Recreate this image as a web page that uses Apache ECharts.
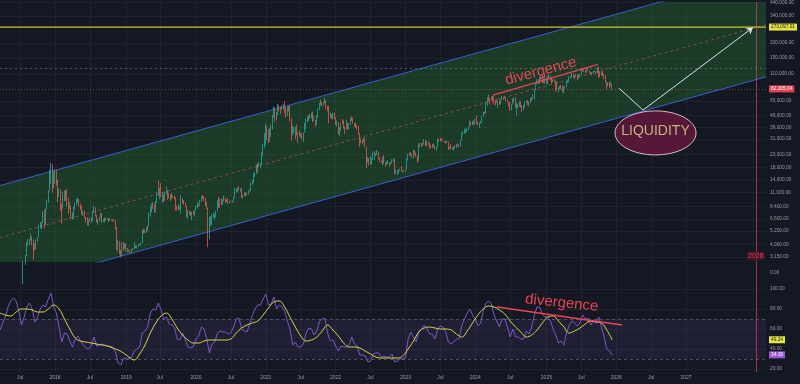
<!DOCTYPE html>
<html><head><meta charset="utf-8">
<script src="https://cdn.jsdelivr.net/npm/echarts@6/dist/echarts.min.js"></script>
<style>html,body{margin:0;padding:0;background:#141823;}#c{width:800px;height:384px;}</style>
</head><body><div id="c"></div>
<script>
// ---------- DATA ----------
const candleStart = '2017-07-10';   // weekly candles
const firstOpen = 2500;
const closes = [
1930,2750,2760,3230,4060,4080,4350,4600,4230,3700,3630,4400,4610,5690,6010,6140,7380,5950,8040,9330,11290,15100,19140,13880,14150,
16480,13770,11600,11750,8200,8070,10400,9650,11500,9540,8200,8500,6900,7000,8300,8900,9350,9650,8700,8500,7350,7700,6780,6500,6150,6380,6750,6350,7400,8200,7000,6300,6400,6700,7300,6250,6500,6700,6600,6600,6300,6450,6480,6450,6400,5600,4000,4150,3600,3200,3950,3900,4050,
3520,3550,3530,3420,3650,3650,3860,3810,3930,4000,4000,4100,5200,5080,5300,5200,5750,7000,8200,8750,8720,7650,8950,10850,10800,11450,10200,10500,9500,10800,11400,10200,10100,9600,10400,10300,10000,8050,7850,8300,8220,9550,9200,8800,8500,7050,7400,7500,7100,7500,7300,7750,
8100,8700,8350,9350,10150,9900,9700,8550,8050,5400,5850,5900,6800,6900,7100,7700,8900,8700,9700,8700,9450,9650,9350,9300,9000,9100,9300,9170,9930,11050,11680,11850,11650,11700,10250,10450,10930,10770,10670,11380,11500,13030,13760,15480,15970,18400,18180,19150,19250,23850,26500,33000,
38200,35800,32300,33100,39200,48600,57500,45200,51200,59000,57500,55900,58200,60000,56200,49100,56600,58200,46400,34700,35600,35800,39100,35500,34700,35300,34250,31800,35400,39900,43800,47000,49300,48800,49900,46000,47300,43200,48200,54900,61500,61000,61300,63300,65000,58600,57300,49400,50100,46700,50800,47300,
41800,43100,36300,37900,42400,42200,38400,37700,38400,37800,41300,46800,46400,42200,39700,39500,38500,34100,31300,30300,29500,29900,26600,20500,21000,19300,20800,20800,22600,23300,23200,24300,21500,20000,19800,21800,19400,18800,19300,19400,19100,19600,20600,20900,16300,16300,16450,17100,17100,16750,16850,16550,
17100,20900,22700,23750,22950,21800,24650,23500,22400,20600,28000,27800,28500,28300,30300,27600,29250,28700,26900,26800,28100,27200,25850,26500,30500,30600,30300,30250,29800,29300,29050,29300,26100,26000,25850,25850,26550,26250,27950,27900,26850,29950,34550,35000,37050,37400,37450,39450,43800,41350,43000,42250,
43950,41750,41600,42050,42600,48300,52150,51750,63100,68950,68350,67200,71300,69350,65700,64950,63100,63900,61500,66950,68500,67750,69650,66650,64250,62700,55850,60800,68150,68250,58150,58700,59450,64200,57300,54850,59150,63350,65850,62800,63000,69000,67950,68750,80450,89850,97900,97200,101100,104450,95200,93700,98350,
94500,101300,104700,97700,96500,96150,96250,94250,80700,82600,86100,82400,78400,83750,85150,93750,94300,104100,106500,109000,105650,105700,105550,100950,108350,109200,119050,117300,119450,114200,119300,117400,113500,108250,111150,115300,115250,112150,123500,115250,108650,114500,110600,104700,94200,86800,90400,88000,88500,82205
];
const highs = [
2540,2900,2810,3290,4200,4480,4450,4980,4700,4400,4120,4450,4620,5860,6200,6250,7600,7900,8100,9600,11500,17200,19700,19100,16500,
17250,17200,14100,11900,11700,8900,11200,11500,11600,11700,9950,9200,8500,7500,8400,9050,9750,9990,9650,8880,8550,7750,7770,6850,6850,6500,6800,6800,7700,8500,8250,7150,6600,6800,7400,7400,6600,6800,6750,6650,6700,6750,6550,6500,6560,6450,5600,4400,4300,3600,4200,4200,4100,
4100,3750,3650,3560,3700,3700,4200,3930,3950,4020,4080,4150,5350,5470,5400,5650,5800,7450,8350,8900,9100,8750,9330,11200,13850,12000,13200,11100,10650,11100,12300,11500,10950,10600,10900,10450,10350,10050,8500,8800,8450,10500,9850,9500,9000,8500,7850,7700,7650,7550,7700,7800,
8500,9150,8750,9550,10200,10500,10250,9950,9200,8200,6900,6950,7200,7450,7300,7750,9450,10050,9850,9850,9650,10400,9980,9600,9800,9300,9450,9350,10100,12100,11900,12000,12480,11800,12100,10600,11180,10990,10950,11450,11700,13350,14050,15950,16400,18900,19450,19900,19400,24300,28400,34800,
41950,40100,37400,38500,40950,49700,58350,57500,52600,61800,60600,58400,60000,61300,64800,57500,58000,59500,59600,46600,40800,39400,39500,41300,35700,36600,35100,34600,35400,42400,46000,48100,49300,50500,51900,52900,48800,45000,49200,56500,62900,67000,63700,64200,69000,66300,59300,59200,51900,50300,51800,52100,
47500,44400,43500,38900,42600,45800,44700,39800,45400,42600,42400,46900,48200,47200,42400,42900,40800,40000,34800,31300,30600,32200,31700,26900,21900,21500,22400,21600,24200,24600,23600,25200,24400,21800,20500,21900,22800,19700,20400,20500,19900,19700,21000,21500,21000,17200,16800,17400,17400,18400,16950,16950,
17200,21200,23300,23950,24250,23400,25250,25100,23900,22600,28450,28850,29100,28800,30950,30500,30000,29800,28900,27650,28200,28450,27400,26800,31400,31250,31500,31800,30400,29600,30000,30250,29650,26800,28150,26500,26900,27450,28050,28600,27900,30300,35200,35900,38000,37950,38400,39500,44700,43500,44400,43800,
45900,49000,43550,42850,43850,48550,52800,52950,64000,70100,73800,68900,71700,71300,72800,66850,67200,64700,65500,67400,71950,70600,71950,70150,66950,63850,63800,61500,68350,69400,70000,62700,61800,65000,64500,59800,60600,64100,66500,65500,64450,69400,69500,73600,81500,93450,99600,98900,103900,105250,108350,99900,102750,
102700,106400,109600,106450,102500,98800,99500,96500,95000,84900,87450,88750,88500,86100,86450,95750,97900,104900,106650,111950,110450,106800,110400,108950,108500,110500,119500,123200,120250,119800,119450,124450,117400,113650,113400,116800,117900,115400,125700,126200,115950,114950,116400,110600,107500,95000,93000,94100,94600,90300
];
const lows = [
1840,1850,2450,2700,3210,3950,3950,4330,3950,2980,3600,3630,4200,4600,5450,5380,6100,5500,5850,8000,9000,11300,13000,11000,12000,
13000,12500,9100,10100,7700,6000,8000,9300,9400,8400,7300,8000,6600,6500,6600,7900,8700,9000,8350,7900,7250,7050,6650,6150,5800,5750,6300,6100,6300,7350,6900,6150,5900,6250,6700,6100,6200,6100,6400,6450,6200,6350,6350,6250,6350,5350,3600,3500,3300,3150,3200,3550,3700,
3500,3450,3500,3380,3380,3580,3650,3740,3700,3860,3940,3960,4100,4950,5000,5050,5200,5700,6900,7500,8000,7450,7550,8950,10300,9650,10100,9100,9100,9400,10600,9500,9800,9350,9600,9950,9600,7750,7750,7800,7900,7300,9000,8700,8350,6800,6600,7100,7000,6450,7150,6900,
7700,8100,8300,8550,9150,9700,9300,8450,8000,3800,4450,5750,5850,6750,6500,6800,7650,8150,8200,8650,8650,9300,9050,9150,8850,8900,9150,9050,9150,9900,10950,11100,11400,11150,9900,9880,10260,10150,10400,10550,11250,11400,12900,13200,14850,15800,16200,18000,17600,19000,22300,26050,
27700,30400,28850,29250,32300,37400,47000,43000,45000,49300,53300,50400,54900,55500,51500,47000,48800,53000,43800,30000,33400,34800,31000,33400,28800,32700,32100,31000,29300,35200,37500,43100,43900,46400,46500,43000,44000,39600,40800,46900,54300,59500,57900,59500,62300,55600,53300,42000,46800,45700,45600,45700,
40700,39700,34000,32900,36300,41700,38000,34300,37200,37200,37600,40900,44200,42000,39200,38600,37600,33700,26700,28700,28000,29300,26600,17600,19700,18600,19000,18900,20800,20700,22400,22700,20800,19800,19600,18500,19300,18100,18800,19100,18200,18900,19300,20000,15600,16000,15500,16000,16900,16600,16400,16300,
16500,17100,20500,22300,22500,21450,21350,22800,21950,19550,20250,26650,26550,27200,28000,27150,26950,27650,25850,26150,26100,26500,25350,24800,26250,29500,29700,29950,29550,28900,28600,28700,25150,25800,25400,25400,24900,26000,26000,27200,26550,26950,29900,33900,34500,34800,35650,36900,39450,40250,40550,41300,
40750,41500,40650,38550,41900,42300,47700,50550,50900,59000,64600,60800,66500,64500,60700,59600,62800,56500,60200,60650,66300,66700,68450,65050,63400,58400,53500,54300,60600,63450,57150,49000,56200,57850,57200,52550,54600,57600,62700,59850,58900,62450,65100,67450,66850,80200,89400,90800,90500,94200,92200,92400,91200,
91200,89250,99550,96150,91200,94100,93400,78200,80000,76650,81250,81600,77150,74500,83000,85150,92800,93350,100700,102000,103100,100400,103400,98200,100500,105100,107450,115700,114700,112000,112650,116800,111700,107300,107250,110600,114400,108650,111600,102000,103550,106350,106300,98950,93000,80600,86300,83800,87500,81200
];

const rsiStart = '2017-03-20';      // RSI, every 2 weeks
const rsiValues = [
59,66,72,82,88,91,88,78,64,72,82,86,80,67,72,80,84,82,90,96,82,
76,62,47,56,55,48,42,50,53,48,44,41,40,43,52,43,44,45,44,43,43,42,37,26,24,31,
30,30,32,38,40,42,56,58,62,76,80,79,86,79,70,72,65,64,61,50,49,56,49,42,41,42,
50,53,62,60,50,36,45,47,56,58,57,57,55,56,62,70,71,60,58,57,65,74,80,84,84,90,
95,84,85,92,80,84,82,78,68,60,44,47,42,42,45,56,61,60,54,58,68,70,71,56,48,49,
43,38,43,42,42,44,52,45,43,34,34,33,27,28,35,36,36,32,33,32,32,35,27,28,30,30,
31,50,57,52,47,58,60,64,60,55,55,50,60,63,62,57,47,45,47,50,50,64,70,76,80,74,
70,63,66,78,86,88,85,74,68,62,70,70,62,52,60,52,52,50,50,58,55,62,74,82,82,75,72,
72,68,60,54,46,48,44,56,64,68,66,63,66,74,70,71,64,68,66,72,62,52,40,38,34
];
const rsiMaStart = '2017-03-20';    // RSI moving average, every 4 weeks
const rsiMaValues = [
76,74,73,77,80,80,79,77,77,80,84,80,70,60,51,48,47,46,45,44,
43,41,39,36,32,29,35,44,56,66,73,76,70,61,54,49,46,46,48,49,
49,49,49,50,56,61,64,66,68,74,81,87,88,82,72,62,53,48,49,52,
58,64,59,53,46,42,42,41,38,35,32,31,31,31,31,33,40,48,57,61,
62,61,60,60,59,55,52,58,66,74,80,83,82,79,75,68,62,57,52,54,
59,66,72,73,68,62,56,58,61,65,68,67,66,59,49
];

const priceTicks = [3150,4000,5200,6600,8400,11000,14000,18000,23000,31000,39000,49000,65000,110000,150000,200000,340000,440000];
const rsiTicks = [20,40,60,80,100];
const timeTicks = ['2017-07-03','2018-01-01','2018-07-02','2019-01-07','2019-07-01','2020-01-06','2020-07-06','2021-01-04','2021-07-05','2022-01-03','2022-07-04','2023-01-02','2023-07-03','2024-01-01','2024-07-01','2025-01-06','2025-07-07','2026-01-05','2026-07-06','2027-01-04'];
const timeTickLabels = ['Jul','2018','Jul','2019','Jul','2020','Jul','2021','Jul','2022','Jul','2023','Jul','2024','Jul','2025','Jul','2026','Jul','2027'];

const lastPrice = 82205.04;
const targetPrice = 273097.01;
const athLevel = 124000;
const lastRsi = 34.19;
const lastRsiMa = 49.24;

const channelUpper = [['2017-03-20', 12600], ['2028-02-25', 786000]];
const channelMid   = [['2017-03-20', 4580],  ['2028-02-25', 285900]];
const channelLower = [['2017-03-20', 1667],  ['2028-02-25', 104000]];
const priceDivergence = [['2024-04-03', 72800], ['2025-10-02', 132300]];
const rsiDivergence = [['2024-04-24', 82], ['2026-02-04', 64]];
const projection = [['2026-01-20', 83250], ['2026-05-25', 54500], ['2027-12-18', 270000]];
const liquidityAt = ['2026-07-29', 35000];
const priceDivTextAt = ['2024-12-08', 115600];
const rsiDivTextAt = ['2025-03-27', 86];
const markerDate = '2028-01-03';
const markerLabelPrice = 3209;

// ---------- CHART ----------
const T = s => Date.parse(s);
const DAY = 86400000;
const pt = a => [T(a[0]), a[1]];
const xMin = T('2017-03-20'), xMax = T('2028-02-25');
const yMin = 2858, yMax = 445300;
const RED = '#ec4457';
const GRID = 'rgba(160,170,190,0.07)';
const LABEL = '#9a9da6';
const FONT = '"Liberation Sans", Arial, sans-serif';
const HIDDEN = {color: 'rgba(0,0,0,0)', width: 0};

const candles = closes.map((c, i) => [T(candleStart) + i * 7 * DAY, i ? closes[i - 1] : firstOpen, c, lows[i], highs[i]]);
const rsi = rsiValues.map((v, i) => [T(rsiStart) + i * 14 * DAY, v]);
const rsiMa = rsiMaValues.map((v, i) => [T(rsiMaStart) + i * 28 * DAY, v]);
const tickTs = timeTicks.map(T);
const fmtPrice = v => v.toLocaleString('en-US', {minimumFractionDigits: 2, maximumFractionDigits: 2});

function xAxis(grid, showLabels) {
  return {
    type: 'value', gridIndex: grid, min: xMin, max: xMax, scale: true,
    axisLine: {show: false},
    axisTick: {show: false, customValues: tickTs},
    axisLabel: showLabels ? {
      show: true, customValues: tickTs, fontSize: 5, color: LABEL, margin: 3, fontFamily: FONT,
      formatter: v => { const i = tickTs.findIndex(t => Math.abs(t - v) < DAY); return i >= 0 ? timeTickLabels[i] : ''; }
    } : {show: false},
    splitLine: {show: true, lineStyle: {color: GRID, width: 1}}
  };
}
const lmin = Math.log10(yMin), lmax = Math.log10(yMax);
const logTicks = priceTicks.map(v => Math.log10(v));
const valueLabel = (color, bg, text) => ({show: true, position: 'end', distance: 3, formatter: text, color: color,
  backgroundColor: bg, fontSize: 4.8, padding: [1, 2, 1, 2], fontFamily: FONT, opacity: 1});
const marker = {xAxis: T(markerDate), lineStyle: {color: 'rgba(236,68,87,0.65)', width: 1, type: 'solid'}, label: {show: false}};

const option = {
  backgroundColor: '#141823',
  animation: false,
  textStyle: {fontFamily: FONT},
  grid: [
    {left: 0, right: 34, top: 0, height: 262},
    {left: 0, right: 34, top: 262, height: 21},
    {left: 0, right: 34, top: 283, height: 89}
  ],
  xAxis: [xAxis(0, false), xAxis(1, false), xAxis(2, true)],
  yAxis: [
    {type: 'log', gridIndex: 0, position: 'left', min: yMin, max: yMax, logBase: 10,
     axisLine: {show: false}, axisTick: {show: false}, axisLabel: {show: false}, splitLine: {show: false}},
    {type: 'value', gridIndex: 0, position: 'right', min: lmin, max: lmax,
     axisLine: {show: false}, axisTick: {show: false, customValues: logTicks},
     axisLabel: {customValues: logTicks, fontSize: 4.8, color: LABEL, margin: 4, align: 'left', fontFamily: FONT,
       formatter: v => { let best = priceTicks[0]; priceTicks.forEach(p => { if (Math.abs(Math.log10(p) - v) < Math.abs(Math.log10(best) - v)) best = p; }); return fmtPrice(best); }},
     splitLine: {show: true, lineStyle: {color: GRID}}},
    {type: 'value', gridIndex: 1, position: 'right', min: -1, max: 1,
     axisLine: {show: false}, axisTick: {show: false, customValues: [0]},
     axisLabel: {customValues: [0], fontSize: 4.8, color: LABEL, margin: 4, align: 'left', formatter: v => v.toFixed(2)},
     splitLine: {show: false}},
    {type: 'value', gridIndex: 2, position: 'right', min: 17, max: 106,
     axisLine: {show: false}, axisTick: {show: false, customValues: rsiTicks},
     axisLabel: {customValues: rsiTicks, fontSize: 4.8, color: LABEL, margin: 4, align: 'left', formatter: v => v.toFixed(2)},
     splitLine: {show: true, lineStyle: {color: GRID}}}
  ],
  series: [
    { // channel fill
      type: 'custom', xAxisIndex: 0, yAxisIndex: 0, clip: true, silent: true, z: 1,
      data: [[xMin, 10000]],
      renderItem: (params, api) => {
        const pts = [channelUpper[0], channelUpper[1], channelLower[1], channelLower[0]].map(a => api.coord(pt(a)));
        return {type: 'polygon', shape: {points: pts}, style: {fill: 'rgba(46,128,52,0.33)'}};
      }
    },
    {type: 'line', xAxisIndex: 0, yAxisIndex: 0, data: channelUpper.map(pt), showSymbol: false, silent: true, z: 3,
     lineStyle: {color: '#3a5fc8', width: 1}},
    {type: 'line', xAxisIndex: 0, yAxisIndex: 0, data: channelLower.map(pt), showSymbol: false, silent: true, z: 3,
     lineStyle: {color: '#3a5fc8', width: 1}},
    {type: 'line', xAxisIndex: 0, yAxisIndex: 0, data: channelMid.map(pt), showSymbol: false, silent: true, z: 3,
     lineStyle: {color: 'rgba(215,95,90,0.55)', width: 1, type: [3, 3]}},
    { // target level (yellow horizontal line)
      type: 'line', xAxisIndex: 0, yAxisIndex: 0, data: [[xMin, targetPrice], [xMax, targetPrice]],
      showSymbol: false, silent: true, z: 4, lineStyle: {color: '#cdc536', width: 1.2, type: 'solid'}
    },
    { // other horizontal price levels + value labels
      type: 'line', xAxisIndex: 0, yAxisIndex: 0, data: [], silent: true, z: 4,
      markLine: {
        symbol: ['none', 'none'], silent: true, animation: false,
        data: [
          {yAxis: targetPrice, lineStyle: HIDDEN,
           label: valueLabel('#131722', '#e8e23c', fmtPrice(targetPrice))},
          {yAxis: athLevel, lineStyle: {color: 'rgba(160,165,175,0.45)', width: 1, type: [2, 3]}, label: {show: false}},
          {yAxis: lastPrice, lineStyle: {color: 'rgba(200,120,130,0.45)', width: 1, type: [1, 2]},
           label: valueLabel('#ffffff', '#e2414f', fmtPrice(lastPrice))},
          marker
        ]
      }
    },
    {
      type: 'candlestick', xAxisIndex: 0, yAxisIndex: 0, data: candles, barWidth: 1, z: 5, clip: true,
      itemStyle: {color: '#26a69a', color0: '#ef5350', borderColor: '#26a69a', borderColor0: '#ef5350', borderWidth: 0.8}
    },
    {
      type: 'line', xAxisIndex: 0, yAxisIndex: 0, data: priceDivergence.map(pt), showSymbol: false, silent: true, z: 6,
      lineStyle: {color: RED, width: 1.3},
      markLine: {
        silent: true, animation: false, label: {show: false},
        lineStyle: {color: '#dfe3ea', width: 1, type: 'solid'},
        data: [
          [{coord: pt(projection[0]), symbol: 'none'}, {coord: pt(projection[1]), symbol: 'none'}],
          [{coord: pt(projection[1]), symbol: 'none'}, {coord: pt(projection[2]), symbol: 'arrow', symbolSize: 6}]
        ]
      }
    },
    { // annotations in price pane
      type: 'custom', xAxisIndex: 0, yAxisIndex: 0, silent: true, z: 8, clip: false,
      data: [[T(liquidityAt[0]), liquidityAt[1]]],
      renderItem: (params, api) => {
        const c = api.coord(pt(liquidityAt));
        const d = api.coord(pt(priceDivTextAt));
        const m = api.coord([T(markerDate), markerLabelPrice]);
        return {type: 'group', children: [
          {type: 'ellipse', shape: {cx: c[0], cy: c[1], rx: 40.5, ry: 22},
           style: {fill: '#551838', stroke: '#dcbccc', lineWidth: 1}},
          {type: 'text', x: c[0], y: c[1] - 2,
           style: {text: 'LIQUIDITY', fill: '#c2b37f', font: '14px "Liberation Sans", sans-serif', align: 'center', verticalAlign: 'middle'}},
          {type: 'text', x: d[0], y: d[1], rotation: 15 * Math.PI / 180,
           style: {text: 'divergence', fill: RED, font: '15px "Liberation Sans", sans-serif', align: 'center', verticalAlign: 'middle'}},
          {type: 'text', x: m[0], y: m[1],
           style: {text: '2028', fill: '#e0405a', font: '7px "Liberation Sans", sans-serif', align: 'center', verticalAlign: 'middle',
                   backgroundColor: 'rgba(70,22,38,0.85)', padding: [1, 1]}}
        ]};
      }
    },
    {type: 'line', xAxisIndex: 1, yAxisIndex: 2, data: [], silent: true,
     markLine: {symbol: ['none', 'none'], silent: true, animation: false, data: [marker]}},
    {
      type: 'line', xAxisIndex: 2, yAxisIndex: 3, data: rsi, showSymbol: false, silent: true, z: 4,
      lineStyle: {color: '#7e57c2', width: 1},
      markArea: {silent: true, itemStyle: {color: 'rgba(126,87,194,0.11)'}, data: [[{yAxis: 70}, {yAxis: 30}]]},
      markLine: {
        symbol: ['none', 'none'], silent: true, animation: false,
        data: [
          {yAxis: 70, lineStyle: {color: 'rgba(120,123,134,0.55)', width: 1, type: [3, 3]}, label: {show: false}},
          {yAxis: 30, lineStyle: {color: 'rgba(120,123,134,0.55)', width: 1, type: [3, 3]}, label: {show: false}},
          {yAxis: lastRsi, lineStyle: HIDDEN, label: valueLabel('#ffffff', '#9b58d2', lastRsi.toFixed(2))},
          marker
        ]
      }
    },
    {
      type: 'line', xAxisIndex: 2, yAxisIndex: 3, data: rsiMa, showSymbol: false, silent: true, z: 5, smooth: 0.4,
      lineStyle: {color: '#d9d64a', width: 1},
      markLine: {
        symbol: ['none', 'none'], silent: true, animation: false,
        data: [{yAxis: lastRsiMa, lineStyle: HIDDEN, label: valueLabel('#131722', '#e6e640', lastRsiMa.toFixed(2))}]
      }
    },
    {type: 'line', xAxisIndex: 2, yAxisIndex: 3, data: rsiDivergence.map(pt), showSymbol: false, silent: true, z: 6,
     lineStyle: {color: RED, width: 1.3}},
    {
      type: 'custom', xAxisIndex: 2, yAxisIndex: 3, silent: true, z: 8, clip: false,
      data: [pt(rsiDivTextAt)],
      renderItem: (params, api) => {
        const d = api.coord(pt(rsiDivTextAt));
        return {type: 'text', x: d[0], y: d[1], rotation: -6 * Math.PI / 180,
          style: {text: 'divergence', fill: RED, font: '15px "Liberation Sans", sans-serif', align: 'center', verticalAlign: 'middle'}};
      }
    }
  ]
};
const chart = echarts.init(document.getElementById('c'), null, {renderer: 'canvas', width: 800, height: 384});
chart.setOption(option);
</script>
</body></html>
